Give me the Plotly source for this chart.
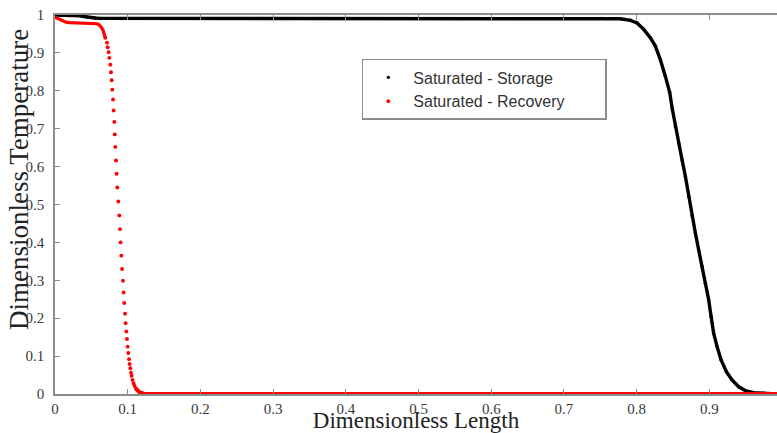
import plotly.graph_objects as go

# ---- data ----
storage_x = [0, 0.01, 0.02, 0.03, 0.035, 0.04, 0.045, 0.05, 0.055, 0.062, 0.1, 0.2, 0.3, 0.4,
             0.5, 0.6, 0.7, 0.75, 0.7777, 0.7913, 0.8005, 0.8097, 0.8188, 0.8257, 0.8326, 0.8395,
             0.8454, 0.8490, 0.8532, 0.8578, 0.8624, 0.8670, 0.8715, 0.8762, 0.8807, 0.8853,
             0.8899, 0.8945, 0.8991, 0.9024, 0.9059, 0.9106, 0.9161, 0.9234, 0.9312, 0.9403,
             0.9495, 0.9609, 0.9747, 0.9930]
storage_y = [1.0, 1.0, 1.0, 0.999, 0.998, 0.996, 0.994, 0.993, 0.992, 0.991, 0.991, 0.991,
             0.991, 0.991, 0.991, 0.991, 0.991, 0.991, 0.990, 0.986, 0.979, 0.962, 0.940, 0.918,
             0.882, 0.838, 0.796, 0.752, 0.706, 0.662, 0.618, 0.574, 0.522, 0.470, 0.425, 0.380,
             0.336, 0.292, 0.248, 0.204, 0.160, 0.125, 0.090, 0.059, 0.037, 0.019, 0.009, 0.0035,
             0.002, 0.0]

recovery_head_x = [0, 0.005, 0.01, 0.015, 0.02, 0.03, 0.04, 0.05, 0.055, 0.058, 0.06, 0.062,
                   0.064, 0.066, 0.068, 0.0692]
recovery_head_y = [0.994, 0.990, 0.985, 0.981, 0.980, 0.979, 0.979, 0.979, 0.978, 0.977, 0.975,
                   0.972, 0.967, 0.960, 0.950, 0.940]

recovery_drop_x = [0.0692, 0.0715, 0.0724, 0.0737, 0.0747, 0.0761, 0.0770, 0.0779, 0.0788, 0.0798,
                   0.0806, 0.0816, 0.0822, 0.0829, 0.0839, 0.0847, 0.0857, 0.0871, 0.0884, 0.0894,
                   0.0902, 0.0912, 0.0922, 0.0935, 0.0944, 0.0953, 0.0963, 0.0971, 0.0981, 0.0990,
                   0.0999, 0.1008, 0.1018, 0.1026, 0.1036, 0.1045, 0.1054, 0.1067, 0.1081, 0.1095,
                   0.1114, 0.1136, 0.1164, 0.1197, 0.1232]
recovery_drop_y = [0.940, 0.927, 0.915, 0.902, 0.887, 0.869, 0.849, 0.828, 0.803, 0.777, 0.748,
                   0.718, 0.685, 0.652, 0.616, 0.581, 0.545, 0.508, 0.471, 0.435, 0.400, 0.365,
                   0.330, 0.299, 0.268, 0.240, 0.212, 0.187, 0.165, 0.145, 0.125, 0.108, 0.092,
                   0.079, 0.068, 0.056, 0.048, 0.037, 0.028, 0.021, 0.014, 0.009, 0.004, 0.002, 0.0]

recovery_tail_x = [0.1114, 0.1136, 0.1164, 0.1197, 0.1232, 0.15, 0.3, 0.5, 0.7, 0.9, 1.0]
recovery_tail_y = [0.014, 0.009, 0.004, 0.002, 0.0, 0.0, 0.0, 0.0, 0.0, 0.0, 0.0]

x_ticks = [0, 0.1, 0.2, 0.3, 0.4, 0.5, 0.6, 0.7, 0.8, 0.9]
x_tick_labels = ["0", "0.1", "0.2", "0.3", "0.4", "0.5", "0.6", "0.7", "0.8", "0.9"]
y_ticks = [0, 0.1, 0.2, 0.3, 0.4, 0.5, 0.6, 0.7, 0.8, 0.9, 1]
y_tick_labels = ["0", "0.1", "0.2", "0.3", "0.4", "0.5", "0.6", "0.7", "0.8", "0.9", "1"]

BLACK = "#000000"
RED = "#ff0000"
AXIS = "#8c8c8c"
SERIF = "Liberation Serif"
PAD = "\u00a0" * 8
TICKFONT = dict(family=SERIF, size=15, color="#3a3a3a")

fig = go.Figure()

# Storage (black)
fig.add_trace(go.Scatter(x=storage_x, y=storage_y, mode="lines",
                         line=dict(color=BLACK, width=3.4), showlegend=False,
                         cliponaxis=False, hoverinfo="skip"))
fig.add_trace(go.Scatter(x=storage_x, y=storage_y, mode="markers",
                         marker=dict(color=BLACK, size=3.4),
                         name="Saturated - Storage", cliponaxis=False))

# Recovery (red)
fig.add_trace(go.Scatter(x=recovery_head_x, y=recovery_head_y, mode="lines",
                         line=dict(color=RED, width=3.2), showlegend=False,
                         cliponaxis=False, hoverinfo="skip"))
fig.add_trace(go.Scatter(x=recovery_tail_x, y=recovery_tail_y, mode="lines",
                         line=dict(color=RED, width=4), showlegend=False,
                         cliponaxis=False, hoverinfo="skip"))
fig.add_trace(go.Scatter(x=recovery_drop_x, y=recovery_drop_y, mode="markers",
                         marker=dict(color=RED, size=3.9),
                         name="Saturated - Recovery" + PAD, cliponaxis=False))

fig.update_layout(
    width=777, height=433,
    margin=dict(l=55, r=0, t=15, b=39, autoexpand=False),
    paper_bgcolor="white", plot_bgcolor="white",
    font=dict(family=SERIF, size=15, color="#3a3a3a"),
    showlegend=True,
    legend=dict(x=0.425, y=0.884, xanchor="left", yanchor="top",
                bgcolor="white", bordercolor="#8c8c8c", borderwidth=1.5,
                font=dict(family="Liberation Sans", size=16, color="#333333"),
                itemwidth=40),
    xaxis=dict(range=[0, 0.993], tickmode="array", tickvals=x_ticks, ticktext=x_tick_labels,
               ticks="inside", ticklen=5, tickcolor=AXIS, tickwidth=1,
               showline=True, linecolor=AXIS, linewidth=1.5, mirror="ticks",
               showgrid=False, zeroline=False, automargin=False, tickfont=TICKFONT,
               title=dict(text="Dimensionless Length", standoff=3,
                          font=dict(family=SERIF, size=23, color="#222222"))),
    yaxis=dict(range=[0, 1], tickmode="array", tickvals=y_ticks, ticktext=y_tick_labels,
               ticks="inside", ticklen=5, tickcolor=AXIS, tickwidth=1,
               showline=True, linecolor=AXIS, linewidth=1.5, automargin=False,
               showgrid=False, zeroline=False, tickfont=TICKFONT, ticklabelstandoff=6),
    yaxis2=dict(range=[0, 1], tickmode="array", tickvals=y_ticks, overlaying="y", side="right",
                ticks="inside", ticklen=5, tickcolor=AXIS, tickwidth=1, automargin=False,
                showline=False, showgrid=False, zeroline=False, showticklabels=False),
    annotations=[dict(text="Dimensionless Temperature", textangle=-90,
                      xref="paper", yref="paper", x=-0.050, y=0.567,
                      xanchor="center", yanchor="middle", showarrow=False,
                      font=dict(family=SERIF, size=27, color="#222222"))],
)

fig.write_html("out.html")
